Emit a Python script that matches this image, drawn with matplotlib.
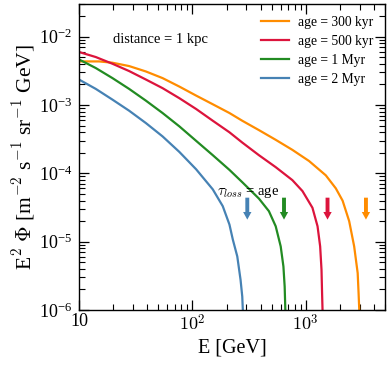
import numpy as np
import matplotlib
matplotlib.use("Agg")
import matplotlib.pyplot as plt

# ---- data (log10 E [GeV], log10 E^2 Phi) ----
labels = ["age = 300 kyr", "age = 500 kyr", "age = 1 Myr", "age = 2 Myr"]
colors = ["#ff8c00", "#dc143c", "#228b22", "#4682b4"]

logE_300k = [1.000, 1.177, 1.295, 1.442, 1.590, 1.737, 1.885, 2.033, 2.180, 2.327, 2.440,
             2.587, 2.735, 2.882, 3.029, 3.177, 3.265, 3.325, 3.383, 3.427, 3.458, 3.466, 3.472, 3.474]
logF_300k = [-2.363, -2.363, -2.382, -2.431, -2.510, -2.607, -2.731, -2.863, -2.990, -3.118, -3.231,
             -3.368, -3.510, -3.657, -3.820, -4.030, -4.220, -4.400, -4.700, -5.069, -5.460, -5.754, -6.0, -6.3]

logE_500k = [1.000, 1.148, 1.295, 1.442, 1.590, 1.737, 1.885, 2.033, 2.180, 2.327, 2.440,
             2.587, 2.735, 2.882, 2.971, 3.059, 3.104, 3.127, 3.139, 3.144, 3.148, 3.150]
logF_500k = [-2.225, -2.299, -2.397, -2.504, -2.628, -2.754, -2.901, -3.059, -3.231, -3.400, -3.550,
             -3.735, -3.910, -4.100, -4.260, -4.504, -4.775, -5.069, -5.412, -5.754, -6.0, -6.3]

logE_1M = [1.000, 1.148, 1.295, 1.442, 1.590, 1.737, 1.885, 2.033, 2.180, 2.327, 2.440,
           2.587, 2.675, 2.735, 2.779, 2.803, 2.814, 2.820, 2.822]
logF_1M = [-2.334, -2.460, -2.607, -2.765, -2.937, -3.118, -3.313, -3.525, -3.735, -3.950, -4.130,
           -4.370, -4.554, -4.775, -5.069, -5.363, -5.657, -6.0, -6.3]

logE_2M = [1.000, 1.148, 1.295, 1.442, 1.590, 1.737, 1.885, 2.033, 2.180, 2.268, 2.327,
           2.357, 2.396, 2.425, 2.440, 2.445, 2.447]
logF_2M = [-2.628, -2.765, -2.922, -3.084, -3.265, -3.460, -3.687, -3.941, -4.235, -4.481, -4.750,
           -4.971, -5.216, -5.559, -5.804, -6.0, -6.3]

arrow_E = [3396, 1556, 643, 305]   # tau_loss = age markers
arrow_top = 4.4e-5
arrow_tip = 2.1e-5

series = [(logE_300k, logF_300k), (logE_500k, logF_500k), (logE_1M, logF_1M), (logE_2M, logF_2M)]

plt.rcParams["font.family"] = ["Liberation Serif", "DejaVu Serif"]
plt.rcParams["mathtext.fontset"] = "cm"

fig = plt.figure(figsize=(3.9, 3.69), dpi=100)
ax = fig.add_axes([79/390, 1-310/369, (385-79)/390, (310-4)/369])

for (le, lf), c, lab in zip(series, colors, labels):
    ax.plot(10**np.array(le), 10**np.array(lf), color=c, lw=1.6, label=lab,
            solid_joinstyle="round")

for e, c in zip(arrow_E, colors):
    ax.annotate("", xy=(e, arrow_tip), xytext=(e, arrow_top),
                arrowprops=dict(arrowstyle="simple,head_width=0.6,head_length=0.55,tail_width=0.28",
                                color=c, lw=0, shrinkA=0, shrinkB=0))

ax.text(166, 5.2e-5, r"$\tau_{loss}$ = age", fontsize=10.5, va="center", ha="left")
ax.text(0.11, 0.885, "distance = 1 kpc", transform=ax.transAxes, fontsize=10.5, va="center")

ax.set_xscale("log")
ax.set_yscale("log")
ax.set_xlim(10, 5000)
ax.set_ylim(1e-6, 3e-2)
ax.set_xticks([10, 100, 1000])
ax.set_xticklabels(["10", r"$10^2$", r"$10^3$"])
ax.tick_params(which="both", direction="in", top=True, right=True, labelsize=13)
ax.tick_params(which="major", length=7, width=0.9)
ax.tick_params(which="minor", length=4.5, width=0.8)
ax.tick_params(axis="x", which="major", pad=2.5)
ax.tick_params(axis="y", which="major", pad=5)
for s in ax.spines.values():
    s.set_linewidth(1.0)

ax.set_xlabel("E [GeV]", fontsize=14.5, labelpad=3)
ax.set_ylabel(r"E$^2$ $\Phi$ [m$^{-2}$ s$^{-1}$ sr$^{-1}$ GeV]", fontsize=15.5, labelpad=1)

leg = ax.legend(loc="upper right", frameon=False, fontsize=9.8, handlelength=2.05,
                handletextpad=0.65, labelspacing=0.45, borderaxespad=0.45)

fig.savefig("out.png", dpi=100)
